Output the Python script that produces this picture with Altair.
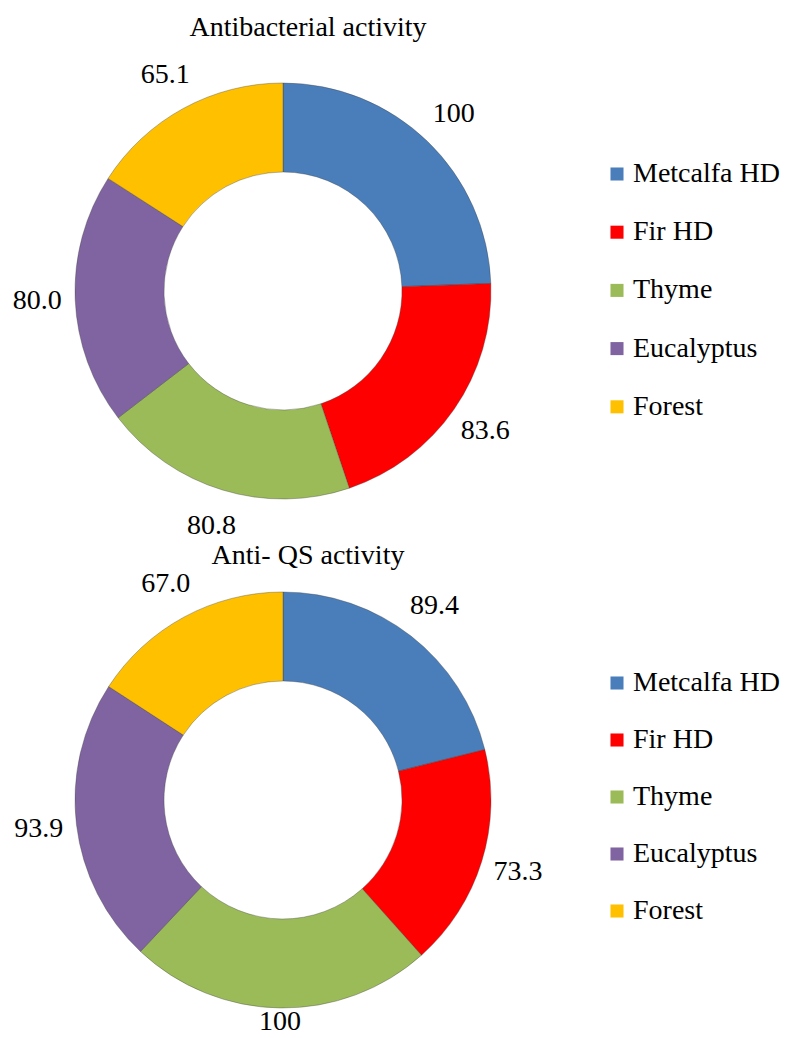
import altair as alt
import pandas as pd

oils = ["Metcalfa HD", "Fir HD", "Thyme", "Eucalyptus", "Forest"]
antibacterial = [100, 83.6, 80.8, 80.0, 65.1]
antibacterial_labels = ["100", "83.6", "80.8", "80.0", "65.1"]
anti_qs = [89.4, 73.3, 100, 93.9, 67.0]
anti_qs_labels = ["89.4", "73.3", "100", "93.9", "67.0"]
colors = ["#4A7EBB", "#FF0000", "#9BBB59", "#8064A2", "#FFC000"]

FONT = "Times New Roman, Liberation Serif, DejaVu Serif, serif"

# label radius: pulled in a little for a label sitting right below the ring
LABEL_R_BOTTOM = "246 - 24 * pow(max(0, -cos(2 * PI * datum.mid)), 4)"


def donut(values, labels, title, title_offset, legend_y, row_pad, label_r):
    df = pd.DataFrame({"oil": oils, "value": values, "label": labels,
                       "idx": list(range(len(oils)))})
    base = alt.Chart(df).encode(
        theta=alt.Theta("value:Q", stack=True),
        order=alt.Order("idx:Q"),
    )
    arc = base.mark_arc(innerRadius=119, outerRadius=208, stroke="#3a3a3a",
                        strokeWidth=0.6, strokeOpacity=0.6).encode(
        color=alt.Color(
            "oil:N",
            scale=alt.Scale(domain=oils, range=colors),
            sort=oils,
            legend=alt.Legend(
                title=None, orient="none", legendX=595, legendY=legend_y,
                symbolType="square", symbolSize=170, symbolStrokeWidth=0,
                symbolOpacity=1,
                labelFont=FONT, labelFontSize=28, labelColor="black",
                labelOffset=2, rowPadding=row_pad, labelLimit=300,
            ),
        )
    )
    text = base.transform_joinaggregate(
        total="sum(value)"
    ).transform_window(
        cum="sum(value)", sort=[alt.SortField("idx")]
    ).transform_calculate(
        mid="(datum.cum - datum.value / 2) / datum.total"
    ).mark_text(radius=label_r, font=FONT, fontSize=28,
                color="black").encode(text="label:N")
    return (arc + text).properties(
        width=550, height=440,
        title=alt.TitleParams(title, font=FONT, fontSize=28, fontWeight="normal",
                              color="black", anchor="middle", dx=25,
                              offset=title_offset),
    )


top = donut(antibacterial, antibacterial_labels, "Antibacterial activity",
            19, 89, 30.2, 246)
bottom = donut(anti_qs, anti_qs_labels, "Anti- QS activity",
               0, 89, 29, alt.ExprRef(expr=LABEL_R_BOTTOM))

chart = alt.vconcat(top, bottom, spacing=0).resolve_scale(
    color="independent"
).resolve_legend(color="independent").properties(
    padding={"top": 6, "left": 0, "right": 0, "bottom": 0}
).configure_view(stroke=None)

chart.save("out.html", embed_options={"renderer": "svg", "actions": False})
